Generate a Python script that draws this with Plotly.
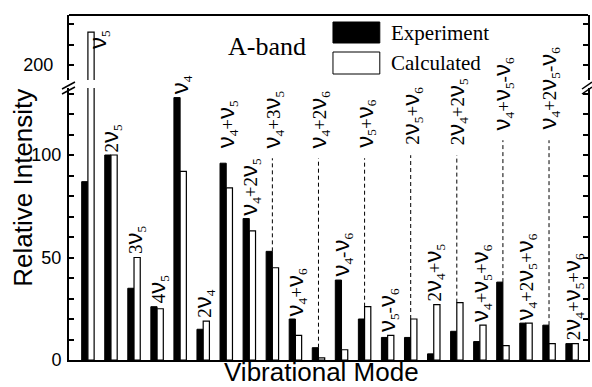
import plotly.graph_objects as go

# ---------------- data ----------------
modes = ["ν5", "2ν5", "3ν5", "4ν5", "ν4", "2ν4", "ν4+ν5", "ν4+2ν5", "ν4+3ν5",
         "ν4+ν6", "ν4+2ν6", "ν4-ν6", "ν5+ν6", "ν5-ν6", "2ν5+ν6", "2ν4+ν5",
         "2ν4+2ν5", "ν4+ν5+ν6", "ν4+ν5-ν6", "ν4+2ν5+ν6", "ν4+2ν5-ν6", "2ν4+ν5+ν6"]
experiment = [87, 100, 35, 26, 128, 15, 96, 69, 53, 20, 6, 39, 20, 11, 11, 3,
              14, 9, 38, 18, 17, 8]
calculated = [216, 100, 50, 25, 92, 19, 84, 63, 45, 12, 1, 5, 26, 12, 20, 27,
              28, 17, 7, 18, 8, 8]
lower_major = [0, 50, 100]
lower_minor = list(range(0, 131, 10))
upper_major = [200]
upper_minor = [200, 210, 220]

# ---------------- layout helpers ----------------
W, H = 592, 387
L, R, T, B = 69, 590, 15, 360
def px(xp):
    return (xp - L) / (R - L)
def py(yp):
    return (B - yp) / (B - T)

# label placement: raised labels (with dashed leader) and special cases
raised_level = {8: 102.4, 10: 102.4, 12: 102.4, 14: 103.9, 16: 103.9,
                18: 111.2, 20: 111.2}
plain_level = {6: 102.4}

NU = "<span style='font-family:Liberation Sans;font-size:24px'>ν</span>"
def label_html(s):
    out = ""
    i = 0
    while i < len(s):
        c = s[i]
        if c == "ν":
            out += NU
            if i + 1 < len(s) and s[i + 1].isdigit():
                out += "<sub>" + s[i + 1] + "</sub>"
                i += 1
        else:
            out += c
        i += 1
    return out

fig = go.Figure()
for yax in ["y", "y2"]:
    fig.add_trace(go.Bar(x=modes, y=experiment, name="Experiment", yaxis=yax,
                         marker=dict(color="black", line=dict(color="black", width=1)),
                         textposition="none", hoverinfo="x+y+name",
                         showlegend=False))
    fig.add_trace(go.Bar(x=modes, y=calculated, name="Calculated", yaxis=yax,
                         marker=dict(color="white", line=dict(color="black", width=1.2)),
                         textposition="none", hoverinfo="x+y+name",
                         showlegend=False))

LABEL_FONT = dict(family="Liberation Serif", size=19, color="black")
annotations = []
shapes = []
for i, m in enumerate(modes):
    top = max(experiment[i], calculated[i])
    if i == 0:
        annotations.append(dict(x=m, y=207, xref="x", yref="y2", text=label_html(m),
                                textangle=-90, showarrow=False, xanchor="center",
                                yanchor="bottom", xshift=10, font=LABEL_FONT))
        continue
    if i in raised_level:
        lvl = raised_level[i]
        shapes.append(dict(type="line", xref="x", yref="y", x0=i, x1=i,
                           y0=top, y1=lvl - 4,
                           line=dict(color="black", width=1, dash="4px,3px")))
        ys = 0
    elif i in plain_level:
        lvl = plain_level[i]
        ys = 0
    else:
        lvl = top
        ys = 1
    annotations.append(dict(x=m, y=lvl, xref="x", yref="y", text=label_html(m),
                            textangle=-90, showarrow=False, xanchor="center",
                            yanchor="bottom", yshift=ys, font=LABEL_FONT))

# text annotations
annotations += [
    dict(x=px(268), y=py(46), xref="paper", yref="paper", text="A-band",
         showarrow=False, xanchor="center", yanchor="middle",
         font=dict(family="Liberation Serif", size=26, color="black")),
    dict(x=px(390), y=py(33), xref="paper", yref="paper", text="Experiment",
         showarrow=False, xanchor="left", yanchor="middle",
         font=dict(family="Liberation Serif", size=21, color="black")),
    dict(x=px(390), y=py(63), xref="paper", yref="paper", text="Calculated",
         showarrow=False, xanchor="left", yanchor="middle",
         font=dict(family="Liberation Serif", size=21, color="black")),
    dict(x=px(22), y=0.5, xref="paper", yref="paper", text="Relative Intensity",
         textangle=-90, showarrow=False, xanchor="center", yanchor="middle",
         font=dict(family="Liberation Sans", size=26, color="black")),
    dict(x=px(322), y=py(372), xref="paper", yref="paper", text="Vibrational Mode",
         showarrow=False, xanchor="center", yanchor="middle", borderpad=0,
         font=dict(family="Liberation Sans", size=26, color="black")),
]

# legend swatches, frame top, axis breaks
shapes += [
    dict(type="rect", xref="paper", yref="paper", x0=px(334), x1=px(381),
         y0=py(43), y1=py(22), fillcolor="black", line=dict(color="black", width=1)),
    dict(type="rect", xref="paper", yref="paper", x0=px(334), x1=px(381),
         y0=py(74), y1=py(52), fillcolor="white", line=dict(color="black", width=1)),
    dict(type="line", xref="paper", yref="paper", x0=0, x1=1, y0=1, y1=1,
         line=dict(color="black", width=2)),
]
for (xa, xb) in [(62, 75), (584, 594)]:
    for dy in (0, 5):
        shapes.append(dict(type="line", xref="paper", yref="paper",
                           x0=px(xa), x1=px(xb), y0=py(89 + dy), y1=py(82 + dy),
                           line=dict(color="black", width=1.5)))

TICKS = dict(ticks="inside", ticklen=5, tickwidth=1.5, tickcolor="black")

fig.update_layout(
    width=W, height=H,
    margin=dict(l=L, r=W - R, t=T, b=H - B),
    paper_bgcolor="white", plot_bgcolor="white",
    barmode="group", bargap=0.46, bargroupgap=0,
    showlegend=False,
    xaxis=dict(range=[-0.82, 21.69], showticklabels=False, ticks="",
               showline=True, linecolor="black", linewidth=2, showgrid=False,
               zeroline=False, anchor="y", fixedrange=True),
    yaxis=dict(domain=[0, py(88)], range=[0, (B - 88) / 2.05],
               tickmode="array", tickvals=lower_major,
               ticktext=[str(v) for v in lower_major],
               minor=dict(tickmode="array", tickvals=lower_minor, showgrid=False, **TICKS),
               showline=True, linecolor="black", linewidth=2, mirror="ticks",
               showgrid=False, zeroline=False, ticklabelstandoff=2,
               tickfont=dict(family="Liberation Sans", size=18, color="black"), **TICKS),
    yaxis2=dict(domain=[py(80), 1], range=[200 - (80 - 65) / 2.05, 200 + (65 - T) / 2.05],
                tickmode="array", tickvals=upper_major,
                ticktext=[str(v) for v in upper_major],
                minor=dict(tickmode="array", tickvals=upper_minor, showgrid=False, **TICKS),
                showline=True, linecolor="black", linewidth=2, mirror="ticks",
                showgrid=False, zeroline=False, anchor="x", ticklabelstandoff=10,
                tickfont=dict(family="Liberation Sans", size=18, color="black"), **TICKS),
    annotations=annotations,
    shapes=shapes,
)

fig.write_html("out.html", config={"displayModeBar": False},
               post_script="document.body.style.margin='0';document.body.style.overflow='hidden';")
